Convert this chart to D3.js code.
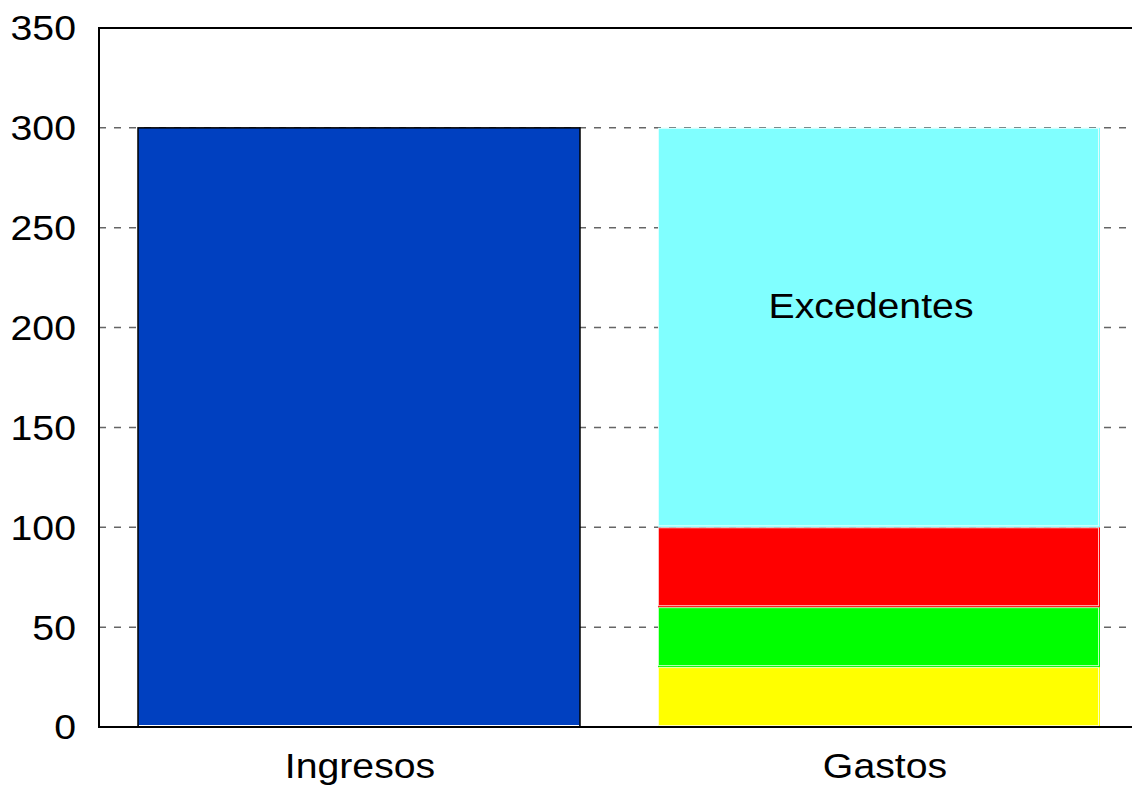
<!DOCTYPE html>
<html>
<head>
<meta charset="utf-8">
<script src="https://cdn.jsdelivr.net/npm/d3@7/dist/d3.min.js"></script>
<style>
  html, body { margin: 0; padding: 0; background: #fff; }
  svg { display: block; }
  text { font-family: "Liberation Sans", Arial, sans-serif; fill: #000; }
</style>
</head>
<body>
<script>
// Budget overview: income against stacked spending
const categories = ["Ingresos", "Gastos"];
const ingresos = [300];
const gastoLabels = ["Gasto A", "Gasto B", "Gasto C", "Excedentes"];
const gastoValues = [30, 30, 40, 200];
const gastoColors = ["#ffff00", "#00ff00", "#ff0000", "#80ffff"];
const ingresoColor = "#0040c0";
const yTicks = [0, 50, 100, 150, 200, 250, 300, 350];

const W = 1132, H = 787;
const margin = { left: 99, top: 28, right: -7, bottom: 60 };
const fontSize = 36, stretch = 1.09;

const svg = d3.select("body").append("svg").attr("width", W).attr("height", H);

const x = d3.scaleBand().domain(categories)
  .range([margin.left, W - margin.right]).paddingInner(0.15).paddingOuter(0.075);
const y = d3.scaleLinear().domain([0, 350]).range([H - margin.bottom, margin.top]);

// dashed grid lines
svg.append("g").selectAll("line").data(yTicks.filter(d => d > 0 && d < 350)).join("line")
  .attr("x1", margin.left).attr("x2", W)
  .attr("y1", d => y(d)).attr("y2", d => y(d))
  .attr("stroke", "#666").attr("stroke-width", 1.5)
  .attr("stroke-dasharray", "7,8");

// income bar
svg.append("rect")
  .attr("x", x("Ingresos")).attr("width", x.bandwidth())
  .attr("y", y(ingresos[0])).attr("height", y(0) - y(ingresos[0]))
  .attr("fill", ingresoColor).attr("stroke", "#000").attr("stroke-width", 1.5);
svg.append("line")
  .attr("x1", x("Ingresos") + 1).attr("x2", x("Ingresos") + x.bandwidth() - 1)
  .attr("y1", y(0) - 1.5).attr("y2", y(0) - 1.5)
  .attr("stroke", "#fff").attr("stroke-width", 1.2);

// stacked spending bar
const stack = [];
let acc = 0;
gastoValues.forEach((v, i) => { stack.push({ y0: acc, y1: acc + v, color: gastoColors[i], label: gastoLabels[i] }); acc += v; });

const gx = x("Gastos");
const seg = svg.append("g").selectAll("g").data(stack).join("g");
seg.append("rect")
  .attr("x", gx).attr("width", x.bandwidth())
  .attr("y", d => y(d.y1)).attr("height", d => y(d.y0) - y(d.y1))
  .attr("fill", d => d.color);
seg.append("rect")
  .attr("x", gx + 0.5).attr("width", x.bandwidth() - 2)
  .attr("y", d => y(d.y1) + 0.5).attr("height", d => y(d.y0) - y(d.y1) - 2)
  .attr("fill", "none").attr("stroke", "#fff").attr("stroke-opacity", 0.75).attr("stroke-width", 1);

// label inside the surplus segment
const surplus = stack[stack.length - 1];
svg.append("text")
  .attr("transform", `translate(${gx + x.bandwidth() / 2 - 8},${y(211)}) scale(${stretch},1)`)
  .attr("text-anchor", "middle").attr("dominant-baseline", "central")
  .attr("font-size", fontSize).text(surplus.label);

// frame: left axis, bottom axis, top border
svg.append("line").attr("x1", margin.left).attr("x2", margin.left)
  .attr("y1", y(350)).attr("y2", y(0)).attr("stroke", "#000").attr("stroke-width", 2);
svg.append("line").attr("x1", margin.left - 1).attr("x2", W)
  .attr("y1", y(0)).attr("y2", y(0)).attr("stroke", "#000").attr("stroke-width", 2);
svg.append("line").attr("x1", margin.left - 1).attr("x2", W)
  .attr("y1", y(350)).attr("y2", y(350)).attr("stroke", "#000").attr("stroke-width", 2);

// y tick labels
svg.append("g").selectAll("text").data(yTicks).join("text")
  .attr("transform", d => `translate(${margin.left - 23},${y(d)}) scale(${stretch},1)`)
  .attr("text-anchor", "end").attr("dominant-baseline", "central")
  .attr("font-size", fontSize).text(d => d);

// category labels
svg.append("g").selectAll("text").data(categories).join("text")
  .attr("transform", (d, i) => `translate(${x(d) + x.bandwidth() / 2 + (i ? 6 : 1)},${y(0) + 51}) scale(${stretch},1)`)
  .attr("text-anchor", "middle")
  .attr("font-size", fontSize).text(d => d);
</script>
</body>
</html>
